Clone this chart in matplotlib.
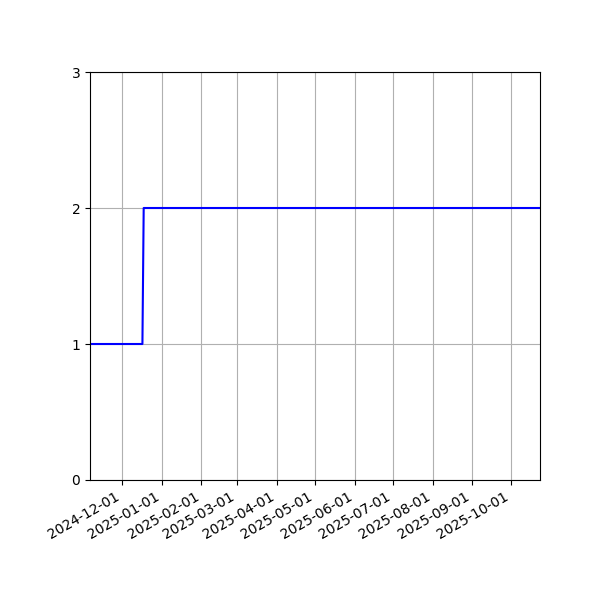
import matplotlib
matplotlib.use("Agg")
import matplotlib.pyplot as plt
import matplotlib.dates as mdates
import pandas as pd

dates = ["2024-11-06", "2024-12-17", "2024-12-18", "2025-10-24"]
values = [1, 1, 2, 2]

x = pd.to_datetime(dates)

fig, ax = plt.subplots(figsize=(6, 6), dpi=100)
fig.subplots_adjust(left=0.15, right=0.9, top=0.88, bottom=0.2)
ax.plot(x, values, color="blue", linewidth=1.5)
ax.set_xlim(x[0], x[-1])
ax.set_ylim(0, 3)
ax.set_yticks([0, 1, 2, 3])
ax.xaxis.set_major_locator(mdates.MonthLocator())
ax.xaxis.set_major_formatter(mdates.DateFormatter("%Y-%m-%d"))
ax.grid(True)
for lbl in ax.get_xticklabels():
    lbl.set_rotation(30)
    lbl.set_ha("right")
fig.savefig("out.png")
